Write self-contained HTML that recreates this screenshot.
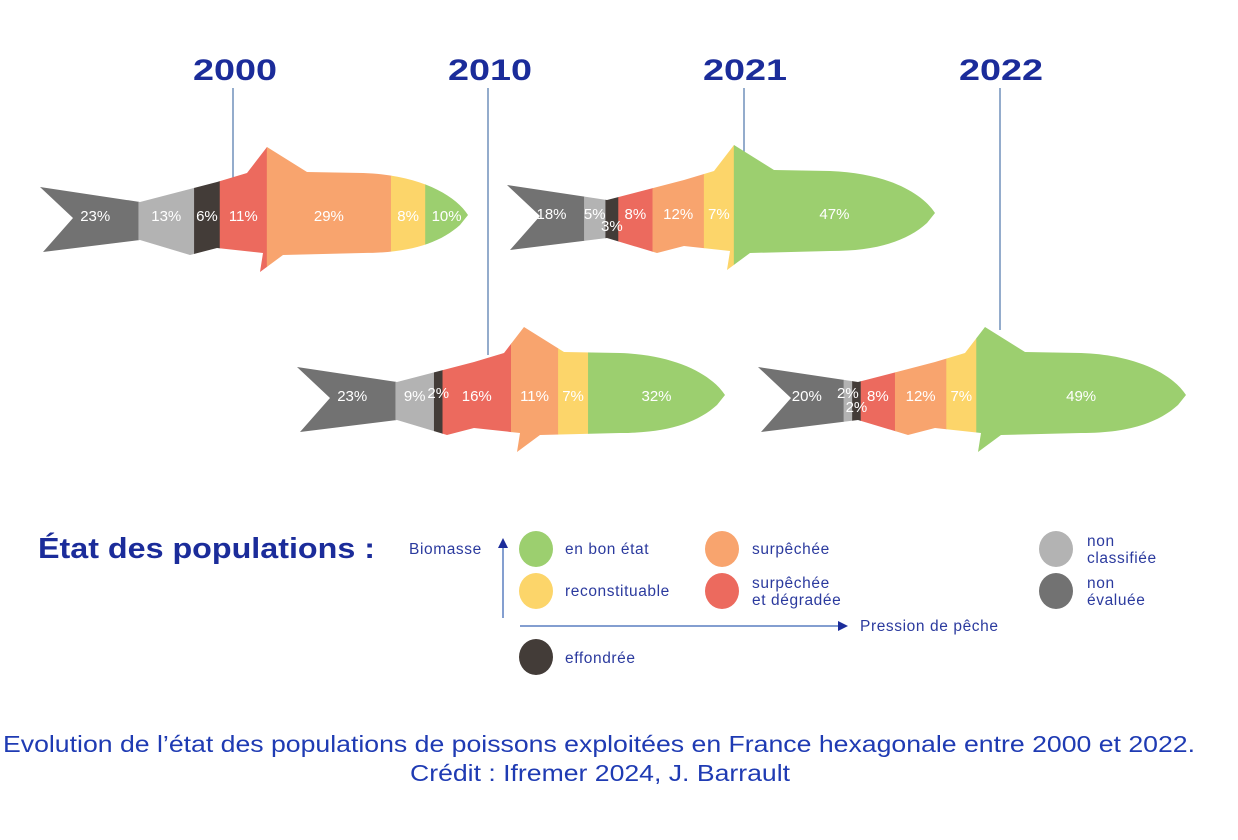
<!DOCTYPE html>
<html><head><meta charset="utf-8"><style>
body{margin:0;background:#fff;}
svg{display:block;font-family:"Liberation Sans",sans-serif;}
.lg{font-size:15.5px;letter-spacing:0.6px;fill:#2b3a9e;}
</style></head><body>
<svg width="1238" height="840" viewBox="0 0 1238 840">
<g id="fishes"></g>
<g>
<text x="38" y="558" font-size="29" font-weight="bold" fill="#1b2c9a" textLength="337" lengthAdjust="spacingAndGlyphs">État des populations :</text>
<text x="409" y="554" class="lg">Biomasse</text>
<line x1="503" y1="618" x2="503" y2="546" stroke="#5a7fc0" stroke-width="1.5"/>
<polygon points="498,548 508,548 503,538" fill="#1b2c9a"/>
<line x1="520" y1="626" x2="840" y2="626" stroke="#5a7fc0" stroke-width="1.5"/>
<polygon points="838,621 838,631 848,626" fill="#1b2c9a"/>
<text x="860" y="631" class="lg">Pression de pêche</text>
<g><ellipse cx="536" cy="549" rx="17" ry="18" fill="#9ccf6f"/><text x="565" y="554" class="lg">en bon état</text></g>
<g><ellipse cx="536" cy="591" rx="17" ry="18" fill="#fcd56a"/><text x="565" y="596" class="lg">reconstituable</text></g>
<g><ellipse cx="536" cy="657" rx="17" ry="18" fill="#433c38"/><text x="565" y="663" class="lg">effondrée</text></g>
<g><ellipse cx="722" cy="549" rx="17" ry="18" fill="#f8a46e"/><text x="752" y="554" class="lg">surpêchée</text></g>
<g><ellipse cx="722" cy="591" rx="17" ry="18" fill="#ec6a5e"/><text x="752" y="588" class="lg">surpêchée</text><text x="752" y="605" class="lg">et dégradée</text></g>
<g><ellipse cx="1056" cy="549" rx="17" ry="18" fill="#b3b3b3"/><text x="1087" y="546" class="lg">non</text><text x="1087" y="563" class="lg">classifiée</text></g>
<g><ellipse cx="1056" cy="591" rx="17" ry="18" fill="#727272"/><text x="1087" y="588" class="lg">non</text><text x="1087" y="605" class="lg">évaluée</text></g>
</g>
<text x="3" y="752" font-size="23" fill="#1f3bb3" textLength="1192" lengthAdjust="spacingAndGlyphs">Evolution de l’état des populations de poissons exploitées en France hexagonale entre 2000 et 2022.</text>
<text x="410" y="781" font-size="23" fill="#1f3bb3" textLength="380" lengthAdjust="spacingAndGlyphs">Crédit : Ifremer 2024, J. Barrault</text>
</svg>
<script>
const years = ["2000","2010","2021","2022"];
const categories = ["non évaluée","non classifiée","effondrée","surpêchée et dégradée","surpêchée","reconstituable","en bon état"];
const values2000 = [23,13,6,11,29,8,10];
const values2010 = [23,9,2,16,11,7,32];
const values2021 = [18,5,3,8,12,7,47];
const values2022 = [20,2,2,8,12,7,49];
const allValues = [values2000, values2010, values2021, values2022];

const colors = ["#727272","#b3b3b3","#433c38","#ec6a5e","#f8a46e","#fcd56a","#9ccf6f"];
const layout = [
  {x:40, y:215, lx:235, lineX:233, lineEnd:178},
  {x:297, y:395, lx:490, lineX:488, lineEnd:355},
  {x:507, y:213, lx:745, lineX:744, lineEnd:152},
  {x:758, y:395, lx:1001, lineX:1000, lineEnd:330}
];
const FISH_LEN = 428;
const fishPath = "M0,-28 L100,-13 L177,-33 L207,-42 L227,-68 L267,-43 L323,-42 C380,-40 415,-20 428,0 L420,10 C400,28 370,38 323,38 L243,40 L220,57 L223,38 L177,33 L150,40 L100,25 L3,37 L33,3 Z";
const NS = "http://www.w3.org/2000/svg";
const root = document.getElementById('fishes');

function xScale(pct){ return pct/100*FISH_LEN; }

years.forEach((yr, i) => {
  const L = layout[i];
  const vals = allValues[i];
  const g = document.createElementNS(NS,'g');
  
  
  const ln = document.createElementNS(NS,'line');
  ln.setAttribute('x1', L.lineX); ln.setAttribute('x2', L.lineX);
  ln.setAttribute('y1', 88); ln.setAttribute('y2', L.lineEnd);
  ln.setAttribute('stroke', '#5a7fb0'); ln.setAttribute('stroke-width', '1.3');
  
  
  g.appendChild(ln);
  const t = document.createElementNS(NS,'text');
  t.setAttribute('x', L.lx - 42); t.setAttribute('y', 80);
  t.setAttribute('font-size','30');
  t.setAttribute('textLength','84'); t.setAttribute('lengthAdjust','spacingAndGlyphs');
  t.setAttribute('font-weight','bold'); t.setAttribute('fill','#1b2c9a');
  t.textContent = yr;
  
  
  g.appendChild(t);
  const fg = document.createElementNS(NS,'g');
  fg.setAttribute('transform', `translate(${L.x},${L.y})`);
  const cp = document.createElementNS(NS,'clipPath');
  cp.setAttribute('id','clip'+i);
  const p = document.createElementNS(NS,'path');
  p.setAttribute('d', fishPath);
  cp.appendChild(p); fg.appendChild(cp);
  let acc = 0;
  const segs = document.createElementNS(NS,'g');
  segs.setAttribute('clip-path', `url(#clip${i})`);
  fg.appendChild(segs);
  let smallToggle = 0;
  vals.forEach((v, j) => {
    const x0 = xScale(acc), w = xScale(v);
    const r = document.createElementNS(NS,'rect');
    r.setAttribute('x', x0); r.setAttribute('y', -80);
    r.setAttribute('width', w + (j < vals.length-1 ? 0.5 : 10)); r.setAttribute('height', 160);
    r.setAttribute('fill', colors[j]);
    
    
    segs.appendChild(r);
    const lb = document.createElementNS(NS,'text');
    let dy = 6;
    let cx = x0 + w/2;
    if (j === 0) cx += 6;
    if (v <= 3) { dy = smallToggle % 2 === 0 ? (v===3 && i===2 ? 18 : 3) : 17; smallToggle++; }
    lb.setAttribute('x', cx); lb.setAttribute('y', dy);
    lb.setAttribute('text-anchor','middle'); lb.setAttribute('font-size','15');
    lb.setAttribute('fill','#fff');
    lb.textContent = v + '%';
    
    
    fg.appendChild(lb);
    acc += v;
  });
  g.appendChild(fg);
  root.appendChild(g);
});
</script>
</body></html>
